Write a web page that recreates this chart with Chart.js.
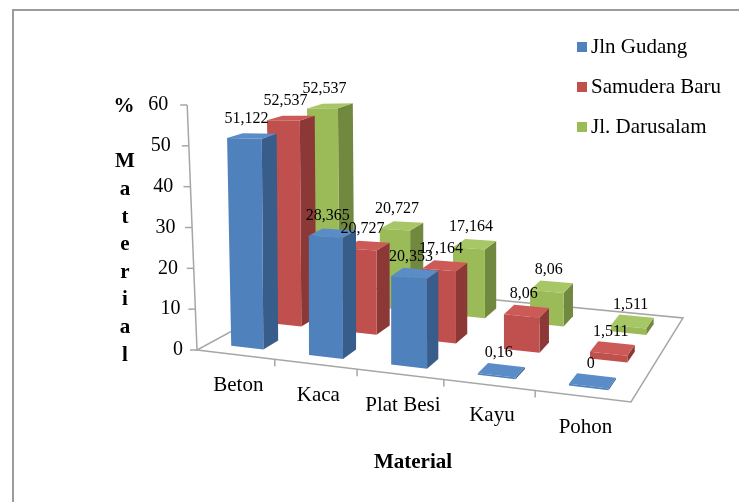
<!DOCTYPE html>
<html>
<head>
<meta charset="utf-8">
<script src="https://cdn.jsdelivr.net/npm/chart.js@4/dist/chart.umd.min.js"></script>
<style>
  html, body { margin: 0; padding: 0; background: #fff; }
  #wrap { width: 739px; height: 502px; }
</style>
</head>
<body>
<div id="wrap"><canvas id="myChart" width="739" height="502"></canvas></div>
<script>
const categories = ["Beton", "Kaca", "Plat Besi", "Kayu", "Pohon"];
const jlnGudang = [51.122, 28.365, 20.353, 0.16, 0];
const samuderaBaru = [52.537, 20.727, 17.164, 8.06, 1.511];
const jlDarusalam = [52.537, 20.727, 17.164, 8.06, 1.511];
const yMin = 0, yMax = 60, yStep = 10;

const serif = "'Times New Roman', 'Liberation Serif', serif";

// depth row of each series, 0 = front edge of floor, 1 = back edge
const rows = [1 / 6, 1 / 2, 5 / 6];
const barDepth = 0.13;

function fmt(v) {
  return String(v).replace(".", ",");
}

const fake3d = {
  id: "fake3d",
  beforeDatasetsDraw(chart) {
    const ctx = chart.ctx;
    const a = chart.chartArea;
    const W = a.right - a.left;
    const yScale = chart.scales.y;
    // floor corners
    const FL = { x: a.left, y: a.bottom };
    const FR = { x: a.right, y: a.bottom + 52 };
    const BL = { x: a.left + 123, y: a.bottom - 67 };
    const BR = { x: a.right + 52, y: a.bottom - 32 };

    function P(fx, d, h) {
      const g = 0.87 * fx + 0.13 * fx * fx;
      const fxp = FL.x + g * (FR.x - FL.x), fyp = FL.y + g * (FR.y - FL.y);
      const bxp = BL.x + g * (BR.x - BL.x), byp = BL.y + g * (BR.y - BL.y);
      const x = fxp * (1 - d) + bxp * d;
      const y = fyp * (1 - d) + byp * d;
      const s = 1 + 0.18 * fx - 0.15 * d;
      const lean = 0.04 * Math.exp(-12 * fx);
      return { x: x - h * s * lean, y: y - h * s };
    }
    function poly(pts, fill) {
      ctx.beginPath();
      ctx.moveTo(pts[0].x, pts[0].y);
      for (let i = 1; i < pts.length; i++) ctx.lineTo(pts[i].x, pts[i].y);
      ctx.closePath();
      ctx.fillStyle = fill;
      ctx.fill();
    }

    ctx.save();
    // floor
    ctx.strokeStyle = "#a6a6a6";
    ctx.lineWidth = 1.5;
    ctx.beginPath();
    const q = [P(0, 0, 0), P(1, 0, 0), P(1, 1, 0), P(0, 1, 0)];
    ctx.moveTo(q[0].x, q[0].y);
    q.slice(1).forEach((p) => ctx.lineTo(p.x, p.y));
    ctx.closePath();
    ctx.stroke();

    // y axis
    const hMax = a.bottom - yScale.getPixelForValue(yMax);
    const p0 = P(0, 0, 0), p1 = P(0, 0, hMax);
    ctx.beginPath();
    ctx.moveTo(p0.x, p0.y);
    ctx.lineTo(p1.x, p1.y);
    ctx.stroke();
    ctx.font = "20px " + serif;
    ctx.fillStyle = "#000";
    ctx.textAlign = "right";
    ctx.textBaseline = "middle";
    yScale.ticks.forEach((t) => {
      const h = a.bottom - yScale.getPixelForValue(t.value);
      const p = P(0, 0, h);
      ctx.beginPath();
      ctx.moveTo(p.x, p.y);
      ctx.lineTo(p.x - 7, p.y);
      ctx.stroke();
      ctx.fillText(String(t.value), p.x - 14 - 5 * h / hMax, p.y);
    });

    // category ticks and labels
    const n = categories.length;
    for (let i = 1; i < n; i++) {
      const p = P(i / n, 0, 0);
      ctx.beginPath();
      ctx.moveTo(p.x, p.y);
      ctx.lineTo(p.x, p.y + 7);
      ctx.stroke();
    }
    ctx.font = "21px " + serif;
    ctx.textAlign = "center";
    const xScale = chart.scales.x;
    categories.forEach((c, i) => {
      const fx = (xScale.getPixelForValue(i) - a.left) / W;
      const p = P(fx, 0, 0);
      ctx.fillText(c, p.x + 3, p.y + 31);
    });

    // bars, back row first
    const labels = [];
    for (let di = chart.data.datasets.length - 1; di >= 0; di--) {
      const ds = chart.data.datasets[di];
      const meta = chart.getDatasetMeta(di);
      const d0 = rows[di] - barDepth / 2, d1 = rows[di] + barDepth / 2;
      meta.data.forEach((bar, i) => {
        const fx0 = (bar.x - bar.width / 2 - a.left) / W;
        const fx1 = (bar.x + bar.width / 2 - a.left) / W;
        const h = Math.max(bar.base - bar.y, 1.5);
        const f = [P(fx0, d0, 0), P(fx1, d0, 0), P(fx1, d0, h), P(fx0, d0, h)];
        const side = [P(fx1, d0, 0), P(fx1, d1, 0), P(fx1, d1, h), P(fx1, d0, h)];
        const top = [P(fx0, d0, h), P(fx1, d0, h), P(fx1, d1, h), P(fx0, d1, h)];
        poly(side, ds.sideColor);
        poly(top, ds.topColor);
        poly(f, ds.backgroundColor);
        const c = P((fx0 + fx1) / 2, rows[di], h);
        labels.push({ x: (f[2].x + f[3].x) / 2 + 2, y: c.y - 17, text: fmt(ds.data[i]) });
      });
    }
    ctx.font = "16px " + serif;
    ctx.fillStyle = "#000";
    ctx.textAlign = "center";
    labels.forEach((l) => ctx.fillText(l.text, l.x, l.y));
    ctx.restore();
    return false;
  },
  afterDraw(chart) {
    const ctx = chart.ctx;
    ctx.save();
    // outer frame
    ctx.strokeStyle = "#9c9c9c";
    ctx.lineWidth = 2;
    ctx.strokeRect(13, 10, 760, 520);
    // legend
    ctx.font = "21px " + serif;
    ctx.textAlign = "left";
    ctx.textBaseline = "middle";
    chart.data.datasets.forEach((ds, i) => {
      const y = 47 + i * 40;
      ctx.fillStyle = ds.backgroundColor;
      ctx.fillRect(577, y - 5, 10, 10);
      ctx.fillStyle = "#000";
      ctx.fillText(ds.label, 591, y);
    });
    // axis titles
    ctx.font = "bold 21px " + serif;
    ctx.textAlign = "center";
    ctx.fillText("Material", 413, 463);
    ctx.fillText("%", 124, 107);
    const word = "Material";
    for (let i = 0; i < word.length; i++) {
      ctx.fillText(word[i], 125, 162 + i * 27.6);
    }
    ctx.restore();
  },
};

new Chart(document.getElementById("myChart"), {
  type: "bar",
  data: {
    labels: categories,
    datasets: [
      { label: "Jln Gudang", data: jlnGudang, backgroundColor: "#4f81bd", sideColor: "#385d8a", topColor: "#5a8cc8" },
      { label: "Samudera Baru", data: samuderaBaru, backgroundColor: "#c0504d", sideColor: "#8c3836", topColor: "#cc5b58" },
      { label: "Jl. Darusalam", data: jlDarusalam, backgroundColor: "#9bbb59", sideColor: "#71893f", topColor: "#a7c766" },
    ],
  },
  plugins: [fake3d],
  options: {
    responsive: false,
    animation: false,
    devicePixelRatio: 1,
    layout: { padding: { left: 197, right: 108, top: 105, bottom: 152 } },
    datasets: { bar: { grouped: false, categoryPercentage: 1, barPercentage: 0.42 } },
    plugins: { legend: { display: false }, tooltip: { enabled: false } },
    scales: {
      x: { display: false },
      y: { display: false, min: yMin, max: yMax, ticks: { stepSize: yStep } },
    },
  },
});
</script>
</body>
</html>
